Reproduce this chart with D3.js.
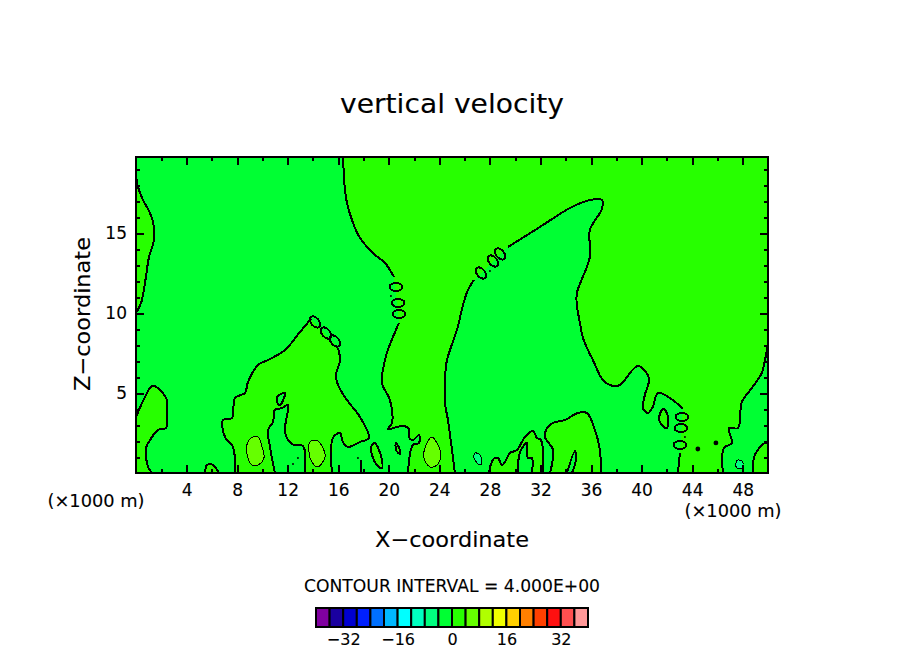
<!DOCTYPE html>
<html>
<head>
<meta charset="utf-8">
<title>vertical velocity</title>
<style>
	html, body { margin: 0; padding: 0; background: #fff; }
	svg { display: block; }
	text { font-family: "DejaVu Sans", sans-serif; fill: #000; stroke: #000; stroke-width: 0.1px; }
	.contour { fill: none; stroke: #000; stroke-width: 2px; shape-rendering: crispEdges; }
	.thin { fill: none; stroke: #000; stroke-width: 1px; shape-rendering: crispEdges; }
	.domain, .tick line { stroke: #000; shape-rendering: crispEdges; }
</style>
<script src="https://d3js.org/d3.v7.min.js"></script>
</head>
<body>
<svg id="chart" width="904" height="654"></svg>
<script>
// all contour points are [x km, z km]
var xTicks = [4, 8, 12, 16, 20, 24, 28, 32, 36, 40, 44, 48],
	zTicks = [5, 10, 15],
	legendTicks = [-32, -16, 0, 16, 32],
	levels = d3.range(-40, 40, 4),
	levelColors = ["#8000a0", "#1a00a0", "#0000d0", "#0020ff", "#0070ff", "#00b8ff", "#00ffff", "#00ffc0", "#00ff80", "#00ff33",
		"#27ff00", "#66ff00", "#b0ff00", "#f0ff00", "#ffd000", "#ff8000", "#ff4000", "#ff1010", "#ff5050", "#ff9898"];

// zero contour, upper region
var leftUpper = [[16.38,19.75],[16.53,17.69],[16.69,16.88],[17.17,15.63],[17.72,14.69],[18.91,13.63],[19.70,13.13],[20.41,12.25]],
	leftLower = [[20.80,9.38],[19.93,7.69],[19.70,7.06],[19.46,5.63],[20.09,4.56],[20.25,3.13],[19.93,2.75],[21.12,2.94],[21.59,2.75],[21.59,2.25],[21.91,2.06],[22.39,2.38],[22.39,1.88],[21.91,1.75],[21.52,0]],
	midLower = [[25.23,0],[25.0,1.44],[24.68,3.31],[24.44,4.38],[24.44,5.81],[24.6,7.06],[24.84,7.69],[25.39,8.94],[25.87,10.5],[26.26,11.44],[26.74,12.06]],
	midUpper = [[29.43,14.13],[31.96,15.38],[34.33,16.56],[35.91,17.06],[36.86,17.06],[36.86,16.5],[35.91,15.19],[35.91,13.5],[34.88,11.25],[34.88,10.5],[35.12,9.38],[35.36,8.44],[35.75,7.69],[36.15,7.06],[36.94,5.81],[37.73,5.44],[38.28,5.5],[39.71,6.69],[40.58,5.94],[40.26,4.88],[40.10,4.06],[40.5,3.75],[40.89,4.13],[41.29,5.0],[42.24,4.69],[43.27,4.0]],
	lowStub = [[43.03,1.25],[42.87,0]],
	rightLine = [[46.43,0],[46.51,1.56],[47.14,1.88],[46.9,2.81],[47.62,2.81],[47.93,4.44],[48.72,5.31],[49.51,6.25],[49.76,7.06],[50,8.0]];

// zero contour, bump on the left
var bumpLeft = [[7.83,0],[7.67,1.63],[7.04,2.25],[6.88,3.31],[7.59,3.44],[7.83,4.69],[8.62,5.0],[8.86,5.69],[9.65,6.75],[10.44,7.06],[11.79,7.69],[12.97,8.81],[13.84,9.63]],
	bumpRight = [[15.98,7.81],[16.14,7.06],[15.82,6.13],[15.98,5.5],[16.69,4.56],[17.72,3.5],[18.43,2.19],[17.72,1.94],[16.77,1.63],[16.37,1.94],[16.14,2.5],[15.58,2.19],[15.5,0]],
	bumpHole = [[13.37,0],[13.21,1.69],[12.34,1.81],[11.79,2.56],[12.02,4.25],[11.55,4.06],[10.99,3.94],[10.84,3.19],[10.44,2.69],[10.6,1.63],[10.99,0]];

// zero contour, smaller positive patches touching an edge
var cornerLow = [[0,3.5],[0.71,4.75],[1.27,5.44],[1.74,5.31],[2.45,4.56],[2.45,4.13],[2.37,2.81],[1.74,2.69],[1.11,2.06],[0.79,1.56],[0.95,0.38],[1.27,0]],
	cornerTop = [[0,19.75],[0.08,18.13],[0.55,17.06],[1.11,16.25],[1.42,15.38],[1.42,14.56],[1.03,13.5],[0.71,11.88],[0.4,10.63],[0,10.0]],
	smallBump = [[5.46,0],[5.62,0.5],[6.09,0.5],[6.57,0]],
	patchE = [[27.92,0],[28.3,0.9],[28.63,0.94],[28.95,0.5],[29.19,0.69],[29.58,1.25],[30.14,1.44],[30.77,2.25],[31.4,2.63],[31.72,2.19],[32.04,2.06],[32.19,0]],
	holeE = [[30.22,0],[30.38,1.31],[30.93,1.88],[31.0,0.94],[31.32,0.94],[31.32,0]],
	patchF = [[32.75,0],[32.99,1.44],[32.35,2.25],[32.51,2.81],[32.99,3.13],[33.93,3.31],[34.96,3.75],[35.67,3.75],[36.31,2.69],[36.7,1.44],[36.78,0]],
	holeF = [[34.09,0],[34.73,1.38],[34.8,0.81],[34.49,0]],
	arcRight = [[48.8,0],[48.96,1.13],[49.76,1.88],[50,1.88]],
	stub = [[17.8,0],[17.8,0.8]];

// closed zero contours
var loopA = [[11.79,5.0],[11.71,4.69],[11.39,4.25],[11.15,4.44],[11.23,4.81]],
	loopB = [[18.9,1.88],[19.22,1.44],[19.46,0.81],[19.46,0.31],[19.06,0.5],[18.67,1.13],[18.59,1.63]],
	loopC = [[20.57,1.88],[20.88,1.44],[20.88,1.19],[20.57,1.44]],
	loopD = [[41.69,4.0],[42.0,3.75],[42.0,2.81],[41.6,3.0],[41.37,3.38]];

// +4 and -4 cells
var highA = [[9.25,2.25],[9.65,2.25],[10.04,1.44],[10.12,0.94],[9.65,0.5],[9.17,0.5],[8.77,1.25],[8.85,1.94]],
	highB = [[13.75,1.94],[14.39,2.0],[14.94,1.25],[14.94,0.94],[14.39,0.38],[13.91,0.69],[13.67,1.44]],
	highC = [[23.41,2.25],[23.89,1.75],[24.13,1.13],[23.81,0.5],[23.26,0.38],[22.78,0.94],[22.86,1.56]],
	lowA = [[26.81,1.25],[27.2,1.13],[27.37,0.69],[27.2,0.5],[26.74,0.94]],
	lowB = [[47.62,0.81],[48.0,0.69],[47.93,0.31],[47.54,0.31],[47.46,0.63]];

// the 0.00 labels on the lines [x, z, angle], and tiny specks
var zeroLabels = [[20.57,11.63,0],[20.73,10.63,0],[20.81,9.94,0],
		[27.29,12.5,50],[28.24,13.25,50],[28.8,13.69,50],
		[14.16,9.44,50],[15.03,8.75,50],[15.74,8.25,50],
		[43.19,3.5,0],[43.11,2.81,0],[43.03,1.75,0]],
	specks = [[12.81,0.94],[12.42,0.56],[17.56,0.94],[20.17,11.06],[28.0,12.63],[43.43,2.25]],
	dots = [[44.45,1.5],[45.88,1.88]];

var svg = d3.select("#chart");

var x = d3.scaleLinear().domain([0, 50]).range([136, 768]),
	z = d3.scaleLinear().domain([0, 19.75]).range([473, 157]),
	legendX = d3.scaleLinear().domain([-40, 40]).range([316, 588]);

// window.closed is taken, hence the long name
var polyLine = d3.line().x(function(d) { return x(d[0]); }).y(function(d) { return z(d[1]); }),
	curveLine = d3.line().x(function(d) { return x(d[0]); }).y(function(d) { return z(d[1]); }).curve(d3.curveCatmullRom.alpha(0.5)),
	closedLine = d3.line().x(function(d) { return x(d[0]); }).y(function(d) { return z(d[1]); }).curve(d3.curveCatmullRomClosed.alpha(0.5)),
	color = function(v) { return levelColors[levels.indexOf(v)]; };

function fillPoly(pts, c) {
	svg.append("path").attr("d", polyLine(pts) + "Z").attr("fill", c).attr("stroke", "none").attr("shape-rendering", "crispEdges");
}
function fillLoop(pts, c) {
	svg.append("path").attr("d", closedLine(pts)).attr("fill", c).attr("shape-rendering", "crispEdges");
}
function stroke(pts, cls) {
	svg.append("path").attr("class", cls).attr("d", curveLine(pts));
}
function loop(pts, cls, c) {
	svg.append("path").attr("class", cls).attr("d", closedLine(pts)).style("fill", c || "none");
}

// filled bands
svg.append("rect").attr("x", x(0)).attr("y", z(19.75)).attr("width", x(50) - x(0)).attr("height", z(0) - z(19.75)).attr("fill", color(-4));
var upper = [].concat(leftUpper, leftLower, midLower, midUpper, lowStub, rightLine, [[50, 19.75]]);
fillPoly(upper, color(0));
fillPoly([].concat(bumpLeft, bumpRight, bumpHole), color(0));
fillPoly(cornerLow.concat([[0, 0]]), color(0));
fillPoly(cornerTop, color(0));
fillPoly(smallBump, color(0));
fillPoly(patchE, color(0));
fillPoly(holeE, color(-4));
fillPoly(patchF, color(0));
fillPoly(holeF, color(-4));
fillPoly(arcRight.concat([[50, 0]]), color(0));
[highA, highB, highC].forEach(function(p) { fillLoop(p, color(4)); });
[lowA, lowB].forEach(function(p) { fillLoop(p, color(-8)); });

// contour lines
[leftUpper, leftLower, midLower, midUpper, lowStub, rightLine, bumpLeft, bumpRight, bumpHole, cornerLow, cornerTop, smallBump, patchE, holeE, patchF, holeF, arcRight, stub].forEach(function(p) { stroke(p, "contour"); });
loop(loopA, "contour", color(-4));
loop(loopB, "contour", color(0));
loop(loopC, "contour", color(0));
loop(loopD, "contour", color(0));
[highA, highB, highC, lowA, lowB].forEach(function(p) { loop(p, "thin"); });

svg.selectAll(".zero").data(zeroLabels).enter().append("ellipse")
	.attr("class", "contour")
	.attr("rx", 6.5).attr("ry", 4)
	.attr("transform", function(d) { return "translate(" + x(d[0]) + "," + z(d[1]) + ") rotate(" + d[2] + ")"; });

svg.selectAll(".speck").data(specks).enter().append("circle")
	.attr("cx", function(d) { return x(d[0]); })
	.attr("cy", function(d) { return z(d[1]); })
	.attr("r", 1)
	.attr("fill", "#000");

svg.selectAll(".dot").data(dots).enter().append("circle")
	.attr("cx", function(d) { return x(d[0]); })
	.attr("cy", function(d) { return z(d[1]); })
	.attr("r", 2.4)
	.attr("fill", "#000");

// axes: long ticks come with labels, short ones sit between them
function minor(step, max) { return d3.range(step, max, step); }
var xMinor = minor(2, 50).filter(function(v) { return v % 4 != 0; }),
	zMinor = minor(1, 19.75).filter(function(v) { return v % 5 != 0; });

function addAxis(axis, tx, ty, labels) {
	var g = svg.append("g").attr("transform", "translate(" + tx + "," + ty + ")").call(axis);
	g.selectAll(".domain").remove();
	g.selectAll(".tick line").attr("stroke-width", 2);
	if (labels) {
		g.selectAll("text").style("font-size", "17px");
	} else {
		g.selectAll("text").remove();
	}
	return g;
}
addAxis(d3.axisBottom(x).tickValues(xTicks).tickSizeInner(-8).tickPadding(11).tickFormat(d3.format("d")), 0, 473, true);
addAxis(d3.axisTop(x).tickValues(xTicks).tickSizeInner(-8), 0, 157, false);
addAxis(d3.axisLeft(z).tickValues(zTicks).tickSizeInner(-8).tickPadding(9).tickFormat(d3.format("d")), 136, 0, true);
addAxis(d3.axisRight(z).tickValues(zTicks).tickSizeInner(-8), 768, 0, false);
addAxis(d3.axisBottom(x).tickValues(xMinor).tickSizeInner(-4), 0, 473, false);
addAxis(d3.axisTop(x).tickValues(xMinor).tickSizeInner(-4), 0, 157, false);
addAxis(d3.axisLeft(z).tickValues(zMinor).tickSizeInner(-4), 136, 0, false);
addAxis(d3.axisRight(z).tickValues(zMinor).tickSizeInner(-4), 768, 0, false);

svg.append("rect").attr("x", x(0)).attr("y", z(19.75)).attr("width", x(50) - x(0)).attr("height", z(0) - z(19.75))
	.attr("fill", "none").attr("stroke", "#000").attr("stroke-width", 2).attr("shape-rendering", "crispEdges");

// titles
function label(txt, px, py, size, width, anchor) {
	return svg.append("text").text(txt).attr("x", px).attr("y", py)
		.attr("font-size", size).attr("text-anchor", anchor || "middle")
		.attr("textLength", width).attr("lengthAdjust", "spacingAndGlyphs");
}
label("vertical velocity", 452, 113, 27, 224);
label("X\u2212coordinate", 452, 547, 22, 154);
label("Z\u2212coordinate", 0, 0, 22, 154).attr("transform", "translate(90,314) rotate(-90)");
label("(\u00d71000 m)", 96, 507, 17, 97);
label("(\u00d71000 m)", 733, 517, 17, 97);
label("CONTOUR INTERVAL = 4.000E+00", 452, 592, 17, 296);

// colour key
var swatchW = legendX(-36) - legendX(-40);
svg.selectAll(".swatch").data(levels).enter().append("rect")
	.attr("x", function(d) { return legendX(d); })
	.attr("y", 608)
	.attr("width", swatchW)
	.attr("height", 19)
	.attr("fill", function(d) { return color(d); })
	.attr("stroke", "#000")
	.attr("stroke-width", 2);

var keyAxis = d3.axisBottom(legendX).tickValues(legendTicks).tickSize(0).tickPadding(7);
var keyG = svg.append("g").attr("transform", "translate(0,627)").call(keyAxis);
keyG.selectAll(".domain").remove();
keyG.selectAll("text").style("font-size", "16px");
</script>
</body>
</html>
